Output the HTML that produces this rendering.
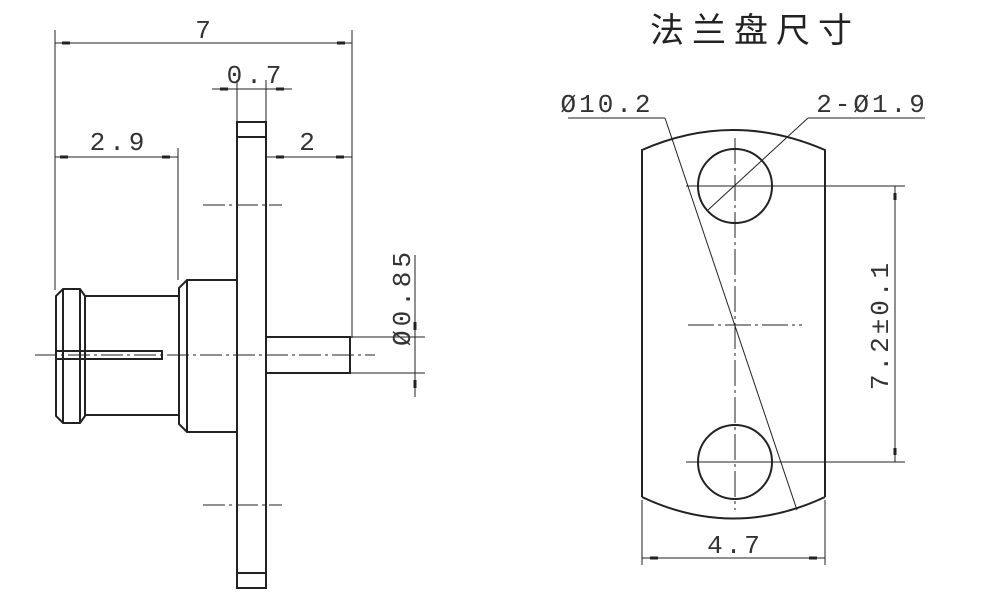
<!DOCTYPE html>
<html><head><meta charset="utf-8"><style>
html,body{margin:0;padding:0;background:#fff;width:1000px;height:607px;overflow:hidden}
svg{display:block}
text{font-family:"Liberation Mono","DejaVu Sans Mono",monospace;fill:#333}
</style></head><body>
<svg width="1000" height="607" viewBox="0 0 1000 607" xmlns="http://www.w3.org/2000/svg">
<g stroke="#222" fill="none">
<g stroke-width="1">
<line x1="55" y1="30" x2="55" y2="290"/>
<line x1="352" y1="30" x2="352" y2="338"/>
<line x1="55" y1="43" x2="352" y2="43"/>
<line x1="212" y1="89" x2="292" y2="89"/>
<line x1="237" y1="80" x2="237" y2="122"/>
<line x1="266" y1="80" x2="266" y2="122"/>
<line x1="55" y1="157" x2="178" y2="157"/>
<line x1="178" y1="148" x2="178" y2="280"/>
<line x1="266" y1="157" x2="352" y2="157"/>
<line x1="415" y1="255" x2="415" y2="397"/>
<line x1="350" y1="337" x2="425" y2="337"/>
<line x1="350" y1="373" x2="425" y2="373"/>
<line x1="35" y1="355" x2="375" y2="355" stroke-dasharray="22,4,3,4"/>
<line x1="203" y1="205" x2="282" y2="205" stroke-dasharray="22,4,3,4"/>
<line x1="203" y1="505" x2="282" y2="505" stroke-dasharray="22,4,3,4"/>
</g>
<g stroke-width="3" stroke="#222">
<line x1="62" y1="43" x2="70" y2="43"/><line x1="337" y1="43" x2="345" y2="43"/>
<line x1="220" y1="89" x2="228" y2="89"/><line x1="276" y1="89" x2="284" y2="89"/>
<line x1="60" y1="157" x2="68" y2="157"/><line x1="162" y1="157" x2="170" y2="157"/>
<line x1="276" y1="157" x2="284" y2="157"/><line x1="336" y1="157" x2="344" y2="157"/>
<line x1="415" y1="322" x2="415" y2="330"/><line x1="415" y1="380" x2="415" y2="388"/>
</g>
<g stroke-width="2">
<rect x="237" y="122" width="29" height="466"/>
<line x1="237" y1="137" x2="266" y2="137"/>
<line x1="237" y1="573" x2="266" y2="573"/>
<path d="M237 280 L187 280 L179 288 L179 424 L187 432 L237 432"/>
<line x1="187" y1="280" x2="187" y2="432"/>
<line x1="85" y1="296" x2="179" y2="296"/>
<line x1="85" y1="415" x2="179" y2="415"/>
<path d="M85 296 L80 289 L63 289 L56 296 L56 416 L63 423 L80 423 L85 416 Z"/>
<line x1="63" y1="289" x2="63" y2="423"/>
<line x1="80" y1="289" x2="80" y2="423"/>
<path d="M56 351 L162 351 L162 359 L56 359"/>
<path d="M266 337 L350 337 L350 373 L266 373"/>
</g>
</g>
<g font-size="26" letter-spacing="4">
<text x="205" y="38" text-anchor="middle">7</text>
<text x="256" y="83" text-anchor="middle">0.7</text>
<text x="119" y="150" text-anchor="middle">2.9</text>
<text x="309" y="150" text-anchor="middle">2</text>
<text transform="translate(410,297) rotate(-90)" text-anchor="middle">Ø0.85</text>
</g>
<text x="755" y="42" text-anchor="middle" letter-spacing="8" style="font-family:'Liberation Sans','Noto Sans CJK SC',sans-serif;font-size:34px;fill:#222">法兰盘尺寸</text>
<g stroke="#222" fill="none">
<g stroke-width="2">
<path d="M642 490 L642 150 Q733 110 825 150 L825 490"/>
<path d="M642 497 Q733 540 825 497"/>
<line x1="642" y1="490" x2="642" y2="497"/>
<line x1="825" y1="490" x2="825" y2="497"/>
<circle cx="735" cy="186" r="37"/>
<circle cx="735" cy="462" r="37"/>
</g>
<g stroke-width="1">
<line x1="735" y1="138" x2="735" y2="510" stroke-dasharray="26,4,3,4"/>
<line x1="688" y1="325" x2="802" y2="325" stroke-dasharray="26,4,3,4"/>
<line x1="686" y1="186" x2="905" y2="186"/>
<line x1="686" y1="462" x2="905" y2="462"/>
<line x1="895" y1="186" x2="895" y2="462"/>
<line x1="568" y1="118" x2="665" y2="118"/>
<line x1="665" y1="118" x2="797" y2="510"/>
<line x1="808" y1="118" x2="925" y2="118"/>
<line x1="808" y1="118" x2="708" y2="210"/>
<line x1="642" y1="500" x2="642" y2="565"/>
<line x1="825" y1="500" x2="825" y2="565"/>
<line x1="642" y1="558" x2="825" y2="558"/>
</g>
<g stroke-width="3">
<line x1="895" y1="193" x2="895" y2="200"/><line x1="895" y1="448" x2="895" y2="455"/>
<line x1="650" y1="558" x2="658" y2="558"/><line x1="809" y1="558" x2="817" y2="558"/>
</g>
</g>
<g font-size="26" letter-spacing="3">
<text x="607" y="112" text-anchor="middle">Ø10.2</text>
<text x="872" y="112" text-anchor="middle">2-Ø1.9</text>
<text x="735" y="553" text-anchor="middle">4.7</text>
<text transform="translate(888,325) rotate(-90)" text-anchor="middle">7.2±0.1</text>
</g>
</svg>
</body></html>
